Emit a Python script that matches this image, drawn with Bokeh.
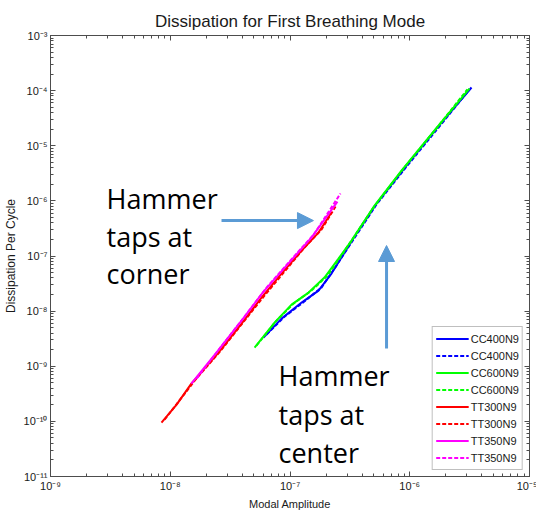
from bokeh.plotting import figure
from bokeh.models import (Range1d, LogAxis, FixedTicker, CustomJSTickFormatter, Arrow,
                          NormalHead, Legend, LegendItem, ColumnDataSource)
from bokeh.core.properties import value
from bokeh.embed import file_html
from bokeh.resources import INLINE

# ---------------- data ----------------
series_names = ["CC400N9", "CC400N9", "CC600N9", "CC600N9",
                "TT300N9", "TT300N9", "TT350N9", "TT350N9"]

cc400_solid_x = [6.01e-8, 8.49e-8, 1.25e-7, 1.73e-7, 2.22e-7, 2.85e-7, 3.59e-7, 5.27e-7, 9.40e-7, 1.67e-6, 3.28e-6]
cc400_solid_y = [3.30e-9, 7.31e-9, 1.43e-8, 2.36e-8, 4.80e-8, 1.15e-7, 2.55e-7, 8.93e-7, 4.37e-6, 2.05e-5, 1.14e-4]

cc400_dash_x = [6.37e-8, 9.00e-8, 1.25e-7, 1.83e-7, 2.44e-7, 3.14e-7, 5.27e-7, 9.40e-7, 1.74e-6, 3.15e-6]
cc400_dash_y = [3.75e-9, 7.94e-9, 1.37e-8, 2.67e-8, 6.70e-8, 1.55e-7, 8.57e-7, 4.19e-6, 2.14e-5, 1.05e-4]

cc600_solid_x = [5.06e-8, 7.43e-8, 1.03e-7, 1.43e-7, 1.94e-7, 2.54e-7, 3.27e-7, 5.08e-7, 8.53e-7, 1.61e-6, 3.15e-6]
cc600_solid_y = [2.18e-9, 6.18e-9, 1.31e-8, 2.17e-8, 4.06e-8, 8.97e-8, 1.90e-7, 8.22e-7, 3.55e-6, 1.89e-5, 1.09e-4]

cc600_dash_x = [5.25e-8, 7.71e-8, 1.07e-7, 1.51e-7, 2.06e-7, 2.69e-7, 4.98e-7, 8.87e-7, 1.64e-6, 3.03e-6]
cc600_dash_y = [2.37e-9, 6.73e-9, 1.37e-8, 2.36e-8, 4.41e-8, 1.02e-7, 7.55e-7, 3.86e-6, 1.97e-5, 1.05e-4]

tt300_solid_x = [8.45e-9, 1.13e-8, 1.50e-8, 2.53e-8, 3.94e-8, 5.78e-8, 8.49e-8, 1.25e-7, 1.73e-7, 2.22e-7]
tt300_solid_y = [9.5e-11, 2.01e-10, 4.83e-10, 1.77e-9, 5.93e-9, 1.76e-8, 4.80e-8, 1.25e-7, 2.66e-7, 6.14e-7]

tt300_dash_x = [8.95e-9, 1.19e-8, 1.60e-8, 2.68e-8, 4.17e-8, 6.12e-8, 9.00e-8, 1.32e-7, 1.83e-7, 2.40e-7]
tt300_dash_y = [1.07e-10, 2.38e-10, 5.48e-10, 2.00e-9, 6.73e-9, 1.91e-8, 5.21e-8, 1.42e-7, 3.01e-7, 7.88e-7]

tt350_solid_x = [1.50e-8, 2.43e-8, 3.94e-8, 6.01e-8, 9.35e-8, 1.51e-7, 2.49e-7]
tt350_solid_y = [4.83e-10, 1.77e-9, 6.73e-9, 2.26e-8, 6.70e-8, 2.16e-7, 9.70e-7]

tt350_dash_x = [1.66e-8, 2.58e-8, 4.17e-8, 6.37e-8, 9.91e-8, 1.60e-7, 2.64e-7]
tt350_dash_y = [5.96e-10, 2.09e-9, 7.94e-9, 2.67e-8, 7.91e-8, 2.55e-7, 1.36e-6]

x_major_ticks = [1e-9, 1e-8, 1e-7, 1e-6, 1e-5]
y_major_ticks = [1e-11, 1e-10, 1e-9, 1e-8, 1e-7, 1e-6, 1e-5, 1e-4, 1e-3]

annotation_texts = ["Hammer", "taps at", "corner", "Hammer", "taps at", "center"]

# ---------------- figure ----------------
AX_COLOR = "#4d4d4d"
FONT = "Liberation Sans"

p = figure(frame_width=479, frame_height=441,
           x_axis_type="log", y_axis_type="log",
           x_range=Range1d(1e-9, 1e-5), y_range=Range1d(1e-11, 1e-3),
           output_backend="svg", toolbar_location=None,
           min_border_left=49, min_border_right=8, min_border_top=35, min_border_bottom=38,
           title="Dissipation for First Breathing Mode")

p.title.align = "center"
p.title.text_font = FONT
p.title.text_font_size = "17px"
p.title.text_font_style = "normal"
p.title.text_color = "#1a1a1a"

p.grid.visible = False
p.outline_line_color = AX_COLOR
p.outline_line_alpha = 1.0
p.background_fill_color = "white"
p.border_fill_color = "white"


def minor_list(majors):
    out = []
    for m in majors[:-1]:
        for k in range(2, 10):
            out.append(m * k)
    return out


sup_code = """
const e = Math.round(Math.log10(tick));
const sup = {'-':'\\u207b','0':'\\u2070','1':'\\u00b9','2':'\\u00b2','3':'\\u00b3','4':'\\u2074',
             '5':'\\u2075','6':'\\u2076','7':'\\u2077','8':'\\u2078','9':'\\u2079'};
let s = '10';
for (const c of String(e)) { s += sup[c]; }
return s;
"""

x_ticker = FixedTicker(ticks=x_major_ticks, minor_ticks=minor_list(x_major_ticks))
y_ticker = FixedTicker(ticks=y_major_ticks, minor_ticks=minor_list(y_major_ticks))


def style_axis(ax, show_labels=True, label_size="11px"):
    ax.major_tick_in = 5
    ax.major_tick_out = 0
    ax.minor_tick_in = 3
    ax.minor_tick_out = 0
    ax.major_tick_line_color = AX_COLOR
    ax.minor_tick_line_color = AX_COLOR
    ax.axis_line_color = AX_COLOR
    if show_labels:
        ax.formatter = CustomJSTickFormatter(code=sup_code)
        ax.major_label_text_font = FONT
        ax.major_label_text_font_size = "11px"
        ax.major_label_text_color = "#1a1a1a"
        ax.major_label_standoff = 3
        ax.axis_label_text_font = FONT
        ax.axis_label_text_font_size = label_size
        ax.axis_label_text_font_style = "normal"
        ax.axis_label_text_color = "#1a1a1a"
        ax.axis_label_standoff = 3
    else:
        ax.major_label_text_font_size = "1px"
        ax.major_label_text_alpha = 0
        ax.major_label_standoff = 0


p.xaxis.ticker = x_ticker
p.yaxis.ticker = y_ticker
p.xaxis.axis_label = "Modal Amplitude"
p.yaxis.axis_label = "Dissipation Per Cycle"
for ax in p.xaxis:
    style_axis(ax, label_size="11px")
for ax in p.yaxis:
    style_axis(ax, label_size="12px")

top_axis = LogAxis(ticker=FixedTicker(ticks=x_major_ticks, minor_ticks=minor_list(x_major_ticks)))
right_axis = LogAxis(ticker=FixedTicker(ticks=y_major_ticks, minor_ticks=minor_list(y_major_ticks)))
style_axis(top_axis, show_labels=False)
style_axis(right_axis, show_labels=False)
p.add_layout(top_axis, "above")
p.add_layout(right_axis, "right")

# ---------------- lines ----------------
series = [
    (cc400_solid_x, cc400_solid_y, "#0000ff", "solid"),
    (cc400_dash_x, cc400_dash_y, "#0000ff", "4 2"),
    (cc600_solid_x, cc600_solid_y, "#00ff00", "solid"),
    (cc600_dash_x, cc600_dash_y, "#00ff00", "4 2"),
    (tt300_solid_x, tt300_solid_y, "#ff0000", "solid"),
    (tt300_dash_x, tt300_dash_y, "#ff0000", "4 2"),
    (tt350_solid_x, tt350_solid_y, "#ff00ff", "solid"),
    (tt350_dash_x, tt350_dash_y, "#ff00ff", "4 2"),
]

items = []
for name, (xs, ys, col, dash) in zip(series_names, series):
    r = p.line(xs, ys, line_color=col, line_width=2, line_dash=dash)
    items.append(LegendItem(label=name, renderers=[r]))

legend = Legend(items=items, location="bottom_right", margin=6,
                padding=3, spacing=0, glyph_width=33, glyph_height=17,
                label_height=17, label_standoff=2,
                label_text_font=FONT, label_text_font_size="11px",
                label_text_color="#1a1a1a",
                border_line_color="#808080", border_line_width=1,
                background_fill_color="white", background_fill_alpha=1.0)
p.add_layout(legend)

# ---------------- annotations ----------------
ann = ColumnDataSource(dict(
    x=[2.94e-9, 2.94e-9, 2.94e-9, 8.02e-8, 8.02e-8, 8.02e-8],
    y=[1.10e-6, 2.30e-7, 4.80e-8, 6.75e-10, 1.35e-10, 2.70e-11],
    t=annotation_texts,
))
p.text(x="x", y="y", text="t", source=ann, text_font=value("Open Sans"),
       text_font_size="27px", text_color="black", text_baseline="alphabetic",
       text_align="left")

ARROW_COLOR = "#5b9bd5"
p.add_layout(Arrow(end=NormalHead(size=16, fill_color=ARROW_COLOR, line_color=ARROW_COLOR),
                   x_start=2.68e-8, y_start=4.39e-7, x_end=1.57e-7, y_end=4.39e-7,
                   line_color=ARROW_COLOR, line_width=3))
p.add_layout(Arrow(end=NormalHead(size=16, fill_color=ARROW_COLOR, line_color=ARROW_COLOR),
                   x_start=6.40e-7, y_start=2.09e-9, x_end=6.40e-7, y_end=1.55e-7,
                   line_color=ARROW_COLOR, line_width=3))

open("out.html", "w").write(file_html(p, INLINE))
